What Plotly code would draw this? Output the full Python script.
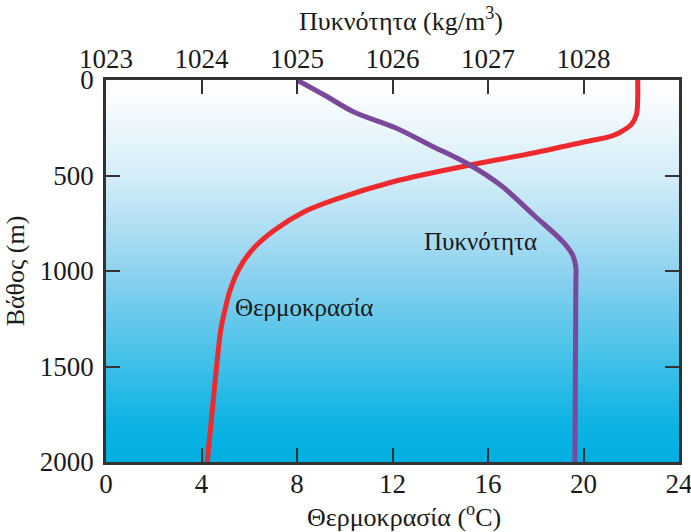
import plotly.graph_objects as go

# Temperature profile (depth m, temperature °C)
temp_depth = [0, 100, 180, 234, 276, 297, 322, 382, 445, 530, 629, 690, 787, 883, 980, 1103, 1243, 1313, 1576, 2000]
temp_vals = [22.27, 22.27, 22.22, 22.0, 21.5, 21.1, 20.13, 17.9, 15.25, 12.1, 9.52, 8.3, 7.05, 6.17, 5.61, 5.19, 4.91, 4.80, 4.57, 4.24]

# Density profile (depth m, density kg/m3)
dens_depth = [0, 80, 166, 250, 340, 445, 550, 708, 850, 920, 980, 1050, 2000]
dens_vals = [1025.00, 1025.29, 1025.59, 1026.03, 1026.39, 1026.81, 1027.13, 1027.48, 1027.79, 1027.89, 1027.92, 1027.92, 1027.91]

temp_ticks = [0, 4, 8, 12, 16, 20, 24]
dens_ticks = [1023, 1024, 1025, 1026, 1027, 1028]
depth_ticks = [0, 500, 1000, 1500, 2000]

# Background gradient levels (depth -> shade)
bg_depth = [-100, 0, 100, 500, 1000, 1500, 1800, 2000, 2100]
bg_level = [0, 0, 0.03, 0.2, 0.5, 0.78, 0.95, 1, 1]
bg_x = [-1, 25]

FONT = "Liberation Serif"
AX = "#333333"
TXT = "#1a1a1a"

fig = go.Figure()

fig.add_trace(go.Heatmap(
    x=bg_x, y=bg_depth, z=[[v, v] for v in bg_level],
    zsmooth="best", showscale=False, hoverinfo="skip",
    colorscale=[[0, "#ffffff"], [0.2, "#d4edf8"], [0.5, "#8fd2ef"],
                [0.78, "#3cbfe8"], [1, "#00afe2"]],
    zmin=0, zmax=1, xaxis="x", yaxis="y",
))

fig.add_trace(go.Scatter(
    x=temp_vals, y=temp_depth, mode="lines", xaxis="x", yaxis="y",
    line=dict(color="#ee2a2f", width=5, shape="spline", smoothing=0.8),
    showlegend=False,
))
fig.add_trace(go.Scatter(
    x=dens_vals, y=dens_depth, mode="lines", xaxis="x2", yaxis="y",
    line=dict(color="#7b489c", width=5, shape="spline", smoothing=1.0),
    showlegend=False,
))

axis_common = dict(
    showgrid=False, zeroline=False, showline=True, linecolor=AX, linewidth=2.5,
    ticks="inside", ticklen=14, tickwidth=1.5, tickcolor=AX, automargin=False,
    ticklabeloverflow="allow",
    tickfont=dict(family=FONT, size=27, color=TXT),
)
title_font = dict(family=FONT, size=26, color=TXT)

fig.update_layout(
    width=691, height=532,
    margin=dict(l=106, r=12, t=80, b=70),
    paper_bgcolor="white", plot_bgcolor="white",
    showlegend=False,
    xaxis=dict(range=[0, 24], tickvals=temp_ticks, **axis_common, ticklabelstandoff=-4),
    xaxis2=dict(range=[1023, 1029], tickvals=dens_ticks, overlaying="x", side="top",
                **axis_common, ticklabelstandoff=-2),
    yaxis=dict(
        range=[2000, 0], tickvals=depth_ticks, mirror="ticks", **axis_common, ticklabelstandoff=4,
        title=dict(text="Βάθος (m)", font=title_font, standoff=8),
    ),
    annotations=[
        dict(x=0.5, y=1, xref="paper", yref="paper", yshift=61, xshift=8,
             text="Πυκνότητα (kg/m<sup>3</sup>)", showarrow=False,
             xanchor="center", yanchor="middle", font=title_font),
        dict(x=0.5, y=0, xref="paper", yref="paper", yshift=-53, xshift=11,
             text="Θερμοκρασία (<sup>o</sup>C)", showarrow=False,
             xanchor="center", yanchor="middle", font=title_font),
        dict(x=13.23, y=848, xref="x", yref="y", text="Πυκνότητα", showarrow=False,
             xanchor="left", yanchor="middle", font=dict(family=FONT, size=25, color=TXT)),
        dict(x=5.32, y=1192, xref="x", yref="y", text="Θερμοκρασία", showarrow=False,
             xanchor="left", yanchor="middle", font=dict(family=FONT, size=25, color=TXT)),
    ],
)

fig.write_html("out.html", config={"displayModeBar": False},
               post_script="document.body.style.margin='0';document.body.style.overflow='hidden';")
